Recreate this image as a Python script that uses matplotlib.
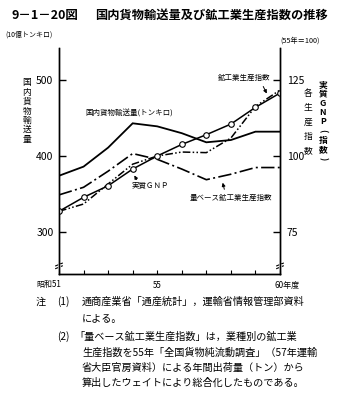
import matplotlib
matplotlib.use("Agg")
import matplotlib.pyplot as plt

plt.rcParams['font.family'] = ['Noto Sans CJK JP', 'DejaVu Sans']

years = [51, 52, 53, 54, 55, 56, 57, 58, 59, 60]
freight = [374, 386, 411, 443, 439, 430, 418, 421, 432, 432]          # 10億トンキロ (left)
vol_iip = [87.2, 89.7, 95.0, 100.8, 98.9, 95.7, 92.2, 94.0, 96.2, 96.2]  # 量ベース鉱工業生産指数 (right)
gnp = [81.8, 86.4, 90.2, 95.7, 100.0, 103.8, 107.0, 110.5, 116.0, 120.7]  # 実質GNP (right)
iip = [81.8, 84.2, 90.8, 97.3, 100.0, 101.3, 101.1, 105.9, 116.3, 121.7]  # 鉱工業生産指数 (right)

W, H = 354, 399
fig = plt.figure(figsize=(W / 100, H / 100), dpi=100)

def fx(x):
    return x / W

def fy(y):
    return 1 - y / H

ax_l, ax_r, ax_t, ax_b = 59, 280, 48, 274
ax = fig.add_axes([fx(ax_l), fy(ax_b), (ax_r - ax_l) / W, (ax_b - ax_t) / H])
ax2 = ax.twinx()

ylo, yhi = 244.7, 542.1
ax.set_ylim(ylo, yhi)
ax2.set_ylim(100 + (ylo - 400) / 4, 100 + (yhi - 400) / 4)
ax.set_xlim(51, 60)

for a in (ax, ax2):
    a.spines['top'].set_visible(False)
    for s in a.spines.values():
        s.set_linewidth(1.0)
    a.patch.set_visible(False)

ax.plot(years, freight, color='black', lw=1.3, solid_joinstyle='miter')
ax2.plot(years, vol_iip, color='black', lw=1.2, linestyle=(0, (8, 2, 1.2, 2)))
ax2.plot(years, iip, color='black', lw=1.1, linestyle=(0, (5, 1.5, 1, 1.5, 1, 1.5)))
ax2.plot(years, gnp, color='black', lw=1.1, marker='o', markersize=4,
         markerfacecolor='white', markeredgecolor='black', markeredgewidth=0.8)

ax.set_xticks(years)
ax.set_xticklabels([])
ax.tick_params(axis='x', direction='in', length=3, width=0.8)
ax.set_yticks([300, 400, 500])
ax.set_yticklabels(['300', '400', '500'], fontsize=7.5)
ax.tick_params(axis='y', direction='in', length=5, width=1.0, pad=4)
ax2.set_yticks([75, 100, 125])
ax2.set_yticklabels(['75', '100', '125'], fontsize=7.5)
ax2.tick_params(axis='y', direction='in', length=5, width=1.0, pad=5)

# axis break marks
for xa in (0, 1):
    for dy in (0.042, 0.030):
        ax.plot([xa - 0.015, xa + 0.015], [dy - 0.006, dy + 0.006], transform=ax.transAxes,
                color='black', lw=0.8, clip_on=False)
    ax.plot([xa, xa], [0.031, 0.041], transform=ax.transAxes, color='white', lw=2, clip_on=False)

# title
fig.text(fx(12), fy(15), '9－1－20図', fontsize=9, weight='bold', va='center', ha='left')
fig.text(fx(95), fy(15), '国内貨物輸送量及び鉱工業生産指数の推移', fontsize=8.8, weight='bold',
         va='center', ha='left')

# unit labels
fig.text(fx(5), fy(35), '(10億トンキロ)', fontsize=5, va='center', ha='left')
fig.text(fx(280), fy(41), '(55年＝100)', fontsize=5.2, va='center', ha='left')

# vertical axis labels
fig.text(fx(27), fy(111), '\n'.join('国内貨物輸送量'), fontsize=6.3, va='center', ha='center',
         linespacing=1.05)
fig.text(fx(308), fy(122), '\n'.join('各生産指数'), fontsize=6.3, va='center', ha='center',
         linespacing=1.75)
gnp_label = ['実', '質', 'G', 'N', 'P', '(', '指', '数', ')']
for i, ch in enumerate(gnp_label):
    rot = -90 if ch in '()' else 0
    fig.text(fx(323), fy(85 + i * 9.2), ch, fontsize=6.3, va='center', ha='center',
             weight='bold', rotation=rot)

# x labels
fig.text(fx(49), fy(285), '昭和51', fontsize=5.8, va='center', ha='center')
fig.text(fx(157), fy(285), '55', fontsize=5.8, va='center', ha='center')
fig.text(fx(287), fy(285), '60年度', fontsize=5.8, va='center', ha='center')

# in-plot annotations
fig.text(fx(85), fy(114), '国内貨物輸送量(トンキロ)', fontsize=5.4, va='center', ha='left')
fig.text(fx(218), fy(78), '鉱工業生産指数', fontsize=5.4, va='center', ha='left')
fig.text(fx(132), fy(186), '実質ＧＮＰ', fontsize=5.4, va='center', ha='left')
fig.text(fx(190), fy(198), '量ベース鉱工業生産指数', fontsize=5.4, va='center', ha='left')

def arrow(x0, y0, x1, y1):
    fig.add_artist(matplotlib.patches.FancyArrowPatch(
        (fx(x0), fy(y0)), (fx(x1), fy(y1)), transform=fig.transFigure,
        arrowstyle='-|>', mutation_scale=5, lw=0.7, color='black'))

arrow(262, 84, 268, 96)
arrow(138, 182, 133, 173)
arrow(225, 192, 222, 180)

# notes
nfs = 7.3
fig.text(fx(36), fy(302), '注', fontsize=nfs, va='center', ha='left')
fig.text(fx(57), fy(302), '(1)', fontsize=nfs, va='center', ha='left')
fig.text(fx(82), fy(302), '通商産業省「通産統計」，運輸省情報管理部資料', fontsize=nfs, va='center', ha='left')
fig.text(fx(82), fy(319), 'による。', fontsize=nfs, va='center', ha='left')
fig.text(fx(57), fy(337), '(2)', fontsize=nfs, va='center', ha='left')
fig.text(fx(74), fy(337), '「量ベース鉱工業生産指数」は，業種別の鉱工業', fontsize=nfs, va='center', ha='left')
fig.text(fx(82), fy(353), '生産指数を55年「全国貨物純流動調査」（57年運輸', fontsize=nfs, va='center', ha='left')
fig.text(fx(82), fy(368), '省大臣官房資料）による年間出荷量（トン）から', fontsize=nfs, va='center', ha='left')
fig.text(fx(82), fy(383), '算出したウェイトにより総合化したものである。', fontsize=nfs, va='center', ha='left')

fig.savefig('out.png', dpi=100)
